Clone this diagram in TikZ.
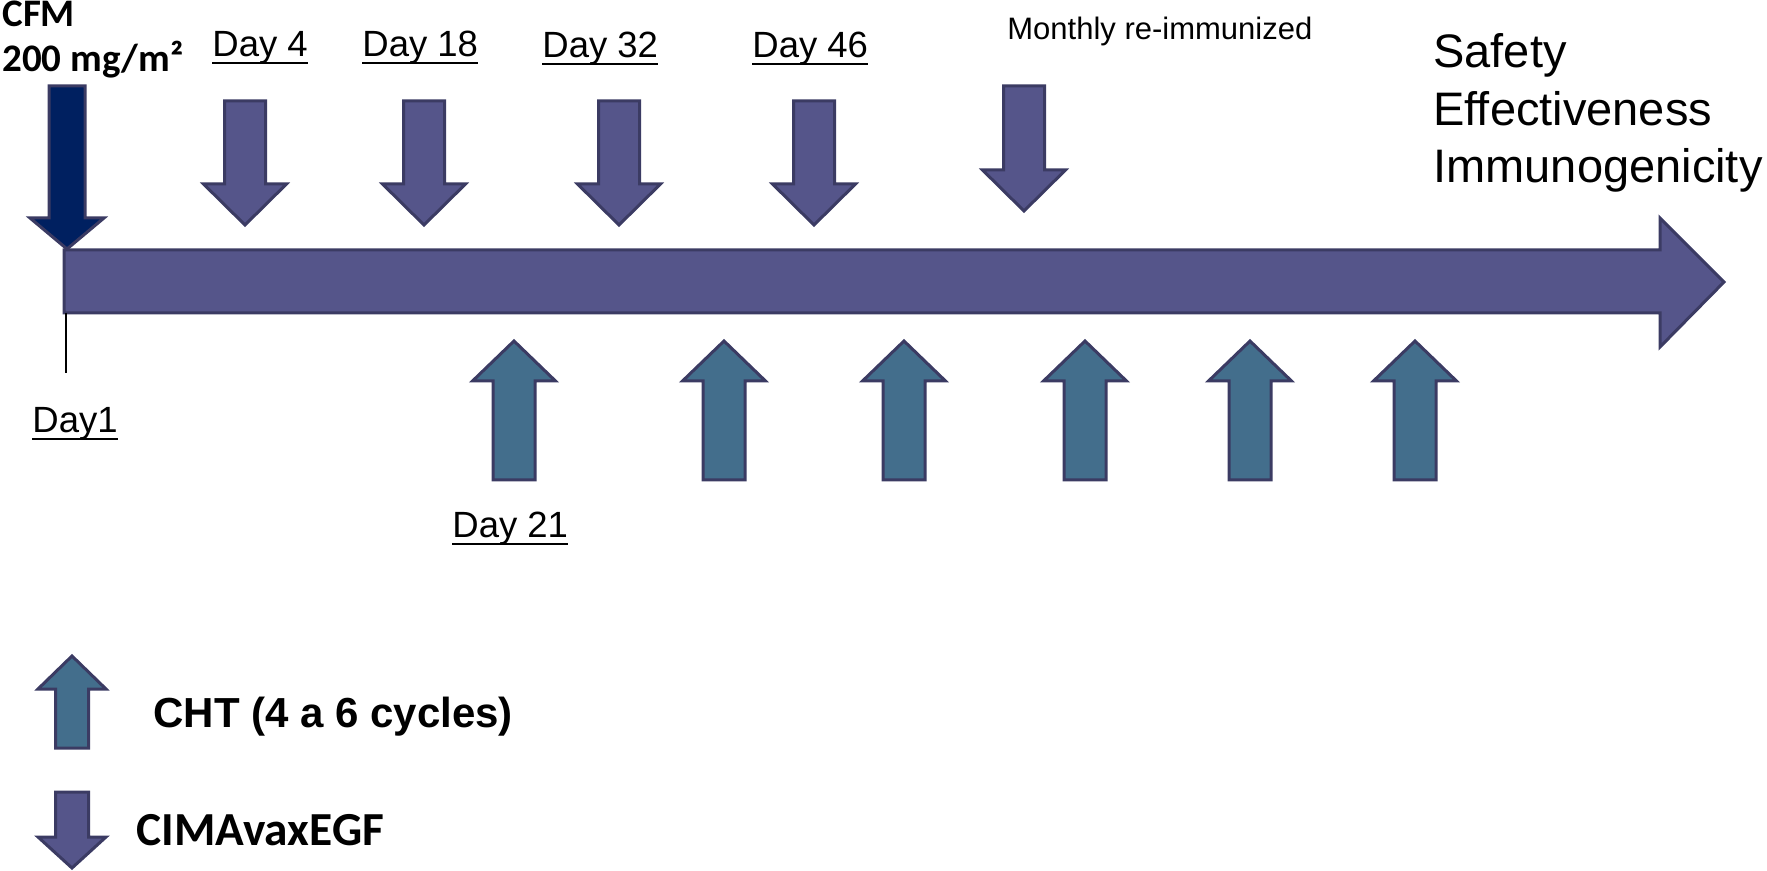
\documentclass[tikz,border=0pt]{standalone}
\usepackage{fontspec}
\setmainfont{Liberation Sans}
\newfontfamily\calib{Carlito}
\definecolor{barfill}{HTML}{55558A}
\definecolor{edgecol}{HTML}{3B3B63}
\definecolor{darkfill}{HTML}{002060}
\definecolor{tealfill}{HTML}{436E8C}
\newcommand{\blockarr}[8]{% style, x, tip y, dir(+1 up,-1 down), head len, head half, shaft half, total len
  \draw[#1] (#2,#3) -- ({#2-#6},{#3+#4*#5}) -- ({#2-#7},{#3+#4*#5}) -- ({#2-#7},{#3+#4*#8})
    -- ({#2+#7},{#3+#4*#8}) -- ({#2+#7},{#3+#4*#5}) -- ({#2+#6},{#3+#4*#5}) -- cycle;}
\tikzset{
  vacc/.style={fill=barfill,draw=edgecol,line width=1.5pt,line join=miter},
  cfmarr/.style={fill=darkfill,draw=edgecol,line width=1.5pt,line join=miter},
  chtarr/.style={fill=tealfill,draw=edgecol,line width=1.5pt,line join=miter},
  lbl/.style={inner sep=0pt,anchor=base west,font=\fontsize{18.25}{21}\selectfont},
  ul/.style={line width=1.2pt},
  outc/.style={inner sep=0pt,anchor=base west,font=\fontsize{23.5}{28}\selectfont},
}
\begin{document}
\begin{tikzpicture}[x=0.5pt,y=-0.5pt]
\useasboundingbox (0,0) rectangle (1767,871);
% main timeline arrow
\draw[vacc] (64,250) -- (1660,250) -- (1660,218) -- (1724,282) -- (1660,347) -- (1660,313) -- (64,313) -- cycle;
% Day1 tick
\draw[line width=0.8pt] (66,313) -- (66,373);
% CFM arrow
\blockarr{cfmarr}{67}{249}{-1}{31}{37}{18}{163}
% vaccine arrows (down)
\blockarr{vacc}{245}{225}{-1}{41}{41.5}{20.5}{124}
\blockarr{vacc}{424}{225}{-1}{41}{41.5}{20.5}{124}
\blockarr{vacc}{619}{225}{-1}{41}{41.5}{20.5}{124}
\blockarr{vacc}{814}{225}{-1}{41}{41.5}{20.5}{124}
\blockarr{vacc}{1024}{211}{-1}{41}{41.5}{20.5}{125}
% chemotherapy arrows (up)
\foreach \xx in {514,724,904,1085,1250,1415}{
  \blockarr{chtarr}{\xx}{341}{1}{40}{41.5}{21}{139}
}
% legend arrows
\blockarr{chtarr}{72}{656}{1}{33}{34}{16.5}{92}
\blockarr{vacc}{72}{868}{-1}{31}{34}{16.5}{76}
% labels
\node[inner sep=0pt,anchor=base west,font=\calib\bfseries\fontsize{19.5}{22}\selectfont] (cfm) at (2,27) {CFM};
\node[inner sep=0pt,anchor=base west,font=\calib\bfseries\fontsize{19.5}{22}\selectfont] (dose) at (2,72) {200 mg/m²};
\node[lbl] (d4) at (212,57) {Day 4};
\node[lbl] (d18) at (362,57) {Day 18};
\node[lbl] (d32) at (542,58) {Day 32};
\node[lbl] (d46) at (752,58) {Day 46};
\node[lbl] (d1) at (32,433) {Day1};
\node[lbl] (d21) at (452,538) {Day 21};
\foreach \n in {d4,d18,d32,d46,d1,d21}{
  \draw[ul] ([yshift=-3pt]\n.base west) -- ([yshift=-3pt]\n.base east);
}
\node[inner sep=0pt,anchor=base west,font=\fontsize{15.5}{18}\selectfont] (month) at (1007,40) {Monthly re-immunized};
\node[outc] (saf) at (1433,68) {Safety};
\node[outc] (eff) at (1433,126) {Effectiveness};
\node[outc] (imm) at (1433,183) {Immunogenicity};
\node[inner sep=0pt,anchor=base west,font=\bfseries\fontsize{21}{25}\selectfont] (cht) at (153,727) {CHT (4 a 6 cycles)};
\node[inner sep=0pt,anchor=base west,font=\calib\bfseries\fontsize{23.7}{28}\selectfont] (cima) at (136,845) {CIMAvaxEGF};
\end{tikzpicture}
\end{document}
